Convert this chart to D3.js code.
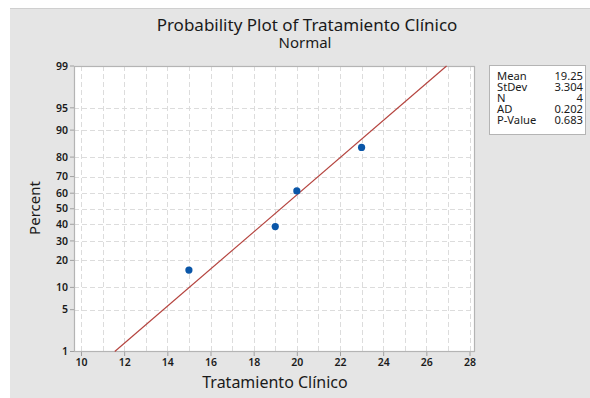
<!DOCTYPE html>
<html>
<head>
<meta charset="utf-8">
<script src="https://cdn.jsdelivr.net/npm/d3@7"></script>
<style>
  html, body { margin: 0; padding: 0; background: #ffffff; }
  svg { display: block; }
  text { font-family: "Noto Sans", "Open Sans", "DejaVu Sans", sans-serif; fill: #1a1a1a; }
</style>
</head>
<body>
<div id="chart"></div>
<script>
// ---------- data ----------
const title = "Probability Plot of Tratamiento Clínico";
const subtitle = "Normal";
const xLabel = "Tratamiento Clínico";
const yLabel = "Percent";
const values = [15, 19, 20, 23];
const percents = [15.9, 38.6, 61.4, 84.1];
const xTicks = [10, 12, 14, 16, 18, 20, 22, 24, 26, 28];
const xGrid = [10, 11, 12, 13, 14, 15, 16, 17, 18, 19, 20, 21, 22, 23, 24, 25, 26, 27, 28];
const yTicks = [1, 5, 10, 20, 30, 40, 50, 60, 70, 80, 90, 95, 99];
const statLabels = ["Mean", "StDev", "N", "AD", "P-Value"];
const statValues = ["19.25", "3.304", "4", "0.202", "0.683"];
const fitMean = 19.25;
const fitSd = 3.304;

// ---------- helpers ----------
// inverse standard normal CDF (Acklam)
function normInv(p) {
  const a = [-3.969683028665376e+01, 2.209460984245205e+02, -2.759285104469687e+02,
             1.383577518672690e+02, -3.066479806614716e+01, 2.506628277459239e+00];
  const b = [-5.447609879822406e+01, 1.615858368580409e+02, -1.556989798598866e+02,
             6.680131188771972e+01, -1.328068155288572e+01];
  const c = [-7.784894002430293e-03, -3.223964580411365e-01, -2.400758277161838e+00,
             -2.549671039144719e+00, 4.374664141464968e+00, 2.938163982698783e+00];
  const d = [7.784695709041462e-03, 3.224671290700398e-01, 2.445134137142996e+00,
             3.754408661907416e+00];
  const pl = 0.02425, ph = 1 - pl;
  let q, r;
  if (p < pl) {
    q = Math.sqrt(-2 * Math.log(p));
    return (((((c[0]*q+c[1])*q+c[2])*q+c[3])*q+c[4])*q+c[5]) / ((((d[0]*q+d[1])*q+d[2])*q+d[3])*q+1);
  } else if (p <= ph) {
    q = p - 0.5; r = q * q;
    return (((((a[0]*r+a[1])*r+a[2])*r+a[3])*r+a[4])*r+a[5])*q / (((((b[0]*r+b[1])*r+b[2])*r+b[3])*r+b[4])*r+1);
  } else {
    q = Math.sqrt(-2 * Math.log(1 - p));
    return -(((((c[0]*q+c[1])*q+c[2])*q+c[3])*q+c[4])*q+c[5]) / ((((d[0]*q+d[1])*q+d[2])*q+d[3])*q+1);
  }
}

// ---------- layout ----------
const W = 590, H = 398;
const frame = { left: 74, right: 475, top: 66, bottom: 352 };

const svg = d3.select("#chart").append("svg").attr("width", W).attr("height", H);

// outer background
svg.append("rect").attr("x", 10).attr("y", 8).attr("width", W - 10).attr("height", H - 8)
  .attr("fill", "#e5e5e5");
svg.append("line").attr("x1", 10).attr("x2", W).attr("y1", 8.5).attr("y2", 8.5)
  .attr("stroke", "#cfcfcf").attr("stroke-width", 1);

// scales
const x = d3.scaleLinear().domain([10, 28]).range([81, 469.5]);
const zTop = normInv(0.99), zBot = normInv(0.01);
const yz = d3.scaleLinear().domain([zBot, zTop]).range([351.5, 66]);
const y = p => yz(normInv(p / 100));

// plot area
svg.append("rect").attr("x", frame.left).attr("y", frame.top)
  .attr("width", frame.right - frame.left).attr("height", frame.bottom - frame.top)
  .attr("fill", "#ffffff");

// grid
const grid = svg.append("g").attr("stroke", "#dcdcdc").attr("stroke-width", 1)
  .attr("stroke-dasharray", "5,3");
grid.selectAll("line.v").data(xGrid).join("line").attr("class", "v")
  .attr("x1", d => Math.round(x(d)) + 0.5).attr("x2", d => Math.round(x(d)) + 0.5)
  .attr("y1", frame.top).attr("y2", frame.bottom);
grid.selectAll("line.h").data(yTicks.filter(d => d > 1 && d < 99)).join("line").attr("class", "h")
  .attr("y1", d => Math.round(y(d)) + 0.5).attr("y2", d => Math.round(y(d)) + 0.5)
  .attr("x1", frame.left).attr("x2", frame.right);

// x axis
const xAxis = d3.axisBottom(x).tickValues(xTicks).tickSize(4).tickPadding(3).tickFormat(d3.format("d"));
const gx = svg.append("g").attr("transform", `translate(0,${frame.bottom})`).call(xAxis);
gx.select(".domain").remove();
gx.selectAll(".tick line").attr("stroke", "#a0a0a0");
gx.selectAll(".tick text").attr("font-size", 10.5).attr("fill", "#222").attr("font-weight", 600)
  .attr("font-family", '"Noto Sans", sans-serif');

// y axis (normal probability scale)
const gy = svg.append("g").attr("transform", `translate(${frame.left},0)`);
const yt = gy.selectAll("g.tick").data(yTicks).join("g").attr("class", "tick")
  .attr("transform", d => `translate(0,${y(d)})`);
yt.append("line").attr("x1", -4).attr("x2", 0).attr("stroke", "#a0a0a0");
yt.append("text").attr("x", -6).attr("dy", "0.35em").attr("text-anchor", "end")
  .attr("font-size", 10.5).attr("fill", "#222").attr("font-weight", 600).text(d => d);

// frame border
svg.append("rect").attr("x", frame.left + 0.5).attr("y", frame.top + 0.5)
  .attr("width", frame.right - frame.left - 1).attr("height", frame.bottom - frame.top - 1)
  .attr("fill", "none").attr("stroke", "#b4b4b4").attr("stroke-width", 1.2);

// fitted line
const fitLine = d3.line().x(d => x(fitMean + fitSd * d)).y(d => yz(d));
svg.append("path").datum([zBot, zTop]).attr("d", fitLine)
  .attr("fill", "none").attr("stroke", "#b5443f").attr("stroke-width", 1.2);

// points
svg.append("g").selectAll("circle").data(values).join("circle")
  .attr("cx", d => x(d)).attr("cy", (d, i) => y(percents[i])).attr("r", 3.6)
  .attr("fill", "#0a56a8");

// titles
svg.append("text").attr("x", 307).attr("y", 31).attr("text-anchor", "middle")
  .attr("font-size", 17).text(title);
svg.append("text").attr("x", 305).attr("y", 48).attr("text-anchor", "middle")
  .attr("font-size", 15).text(subtitle);
svg.append("text").attr("x", 275).attr("y", 388).attr("text-anchor", "middle")
  .attr("font-size", 16).text(xLabel);
svg.append("text").attr("transform", "translate(40,208) rotate(-90)").attr("text-anchor", "middle")
  .attr("font-size", 15).text(yLabel);

// stats box
const box = { x: 489.5, y: 65.5, w: 96, h: 69 };
svg.append("rect").attr("x", box.x).attr("y", box.y).attr("width", box.w).attr("height", box.h)
  .attr("fill", "#ffffff").attr("stroke", "#b4b4b4").attr("stroke-width", 1);
const rowStep = 11.2;
const labelsText = svg.append("text").attr("font-size", 11.2);
labelsText.selectAll("tspan").data(statLabels).join("tspan")
  .attr("x", 497).attr("y", (d, i) => 79.6 + i * rowStep).text(d => d);
const valuesText = svg.append("text").attr("font-size", 11.2).attr("text-anchor", "end");
valuesText.selectAll("tspan").data(statValues).join("tspan")
  .attr("x", 583).attr("y", (d, i) => 79.6 + i * rowStep).text(d => d);
</script>
</body>
</html>
